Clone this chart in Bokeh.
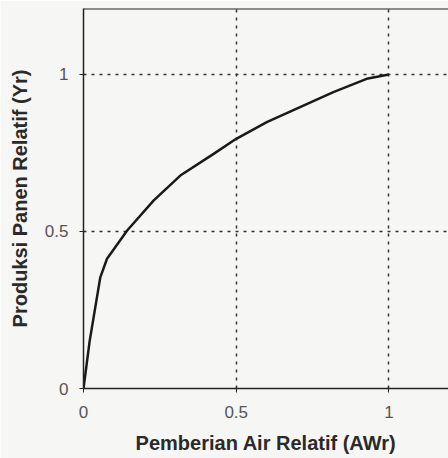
from bokeh.plotting import figure
from bokeh.models import Range1d, FixedTicker, Span
from bokeh.embed import file_html
from bokeh.resources import INLINE

# Data
awr = [0.0, 0.02, 0.055, 0.077, 0.143, 0.23, 0.317, 0.426, 0.5, 0.6, 0.709, 0.818, 0.927, 1.0]
yr = [0.0, 0.15, 0.354, 0.413, 0.503, 0.599, 0.678, 0.747, 0.795, 0.848, 0.896, 0.944, 0.986, 1.0]
x_ticks = [0, 0.5, 1]
y_ticks = [0, 0.5, 1]
x_label = "Pemberian Air Relatif (AWr)"
y_label = "Produksi Panen Relatif (Yr)"

bg = "#f6f6f4"
p = figure(width=448, height=458, output_backend="svg", toolbar_location=None,
           x_range=Range1d(0, 1.195), y_range=Range1d(0, 1.21),
           min_border_left=83, min_border_right=0, min_border_top=8, min_border_bottom=70,
           background_fill_color=bg, border_fill_color=bg)
p.outline_line_color = None

p.line(awr, yr, line_color="#1a1a1a", line_width=2.5)

for ax in (p.xaxis[0], p.yaxis[0]):
    ax.axis_line_color = "#222222"
    ax.axis_line_width = 1.5
    ax.major_tick_line_color = "#222222"
    ax.major_tick_out = 4
    ax.major_tick_in = 0
    ax.minor_tick_line_color = None
    ax.major_label_text_font = "Liberation Sans"
    ax.major_label_text_font_size = "17px"
    ax.major_label_text_color = "#555555"
    ax.axis_label_text_font = "Liberation Sans"
    ax.axis_label_text_font_size = "20px"
    ax.axis_label_text_font_style = "bold"
    ax.axis_label_text_color = "#2a2a2a"

p.xaxis.ticker = FixedTicker(ticks=x_ticks)
p.yaxis.ticker = FixedTicker(ticks=y_ticks)
p.xaxis.major_label_overrides = {0: "0", 0.5: "0.5", 1: "1"}
p.yaxis.major_label_overrides = {0: "0", 0.5: "0.5", 1: "1"}
p.xaxis.axis_label = x_label
p.yaxis.axis_label = y_label
p.xaxis.major_label_standoff = 13
p.yaxis.major_label_standoff = 11
p.xaxis.axis_label_standoff = 11
p.yaxis.axis_label_standoff = 11

p.xgrid.ticker = FixedTicker(ticks=[0.5, 1])
p.ygrid.ticker = FixedTicker(ticks=[0.5, 1])
for g in (p.xgrid[0], p.ygrid[0]):
    g.grid_line_color = "#333333"
    g.grid_line_width = 1.5
    g.grid_line_dash = "3 5"

p.add_layout(Span(location=1.21, dimension="width", line_color="#222222", line_width=2))

open("out.html", "w").write(file_html(p, INLINE))
